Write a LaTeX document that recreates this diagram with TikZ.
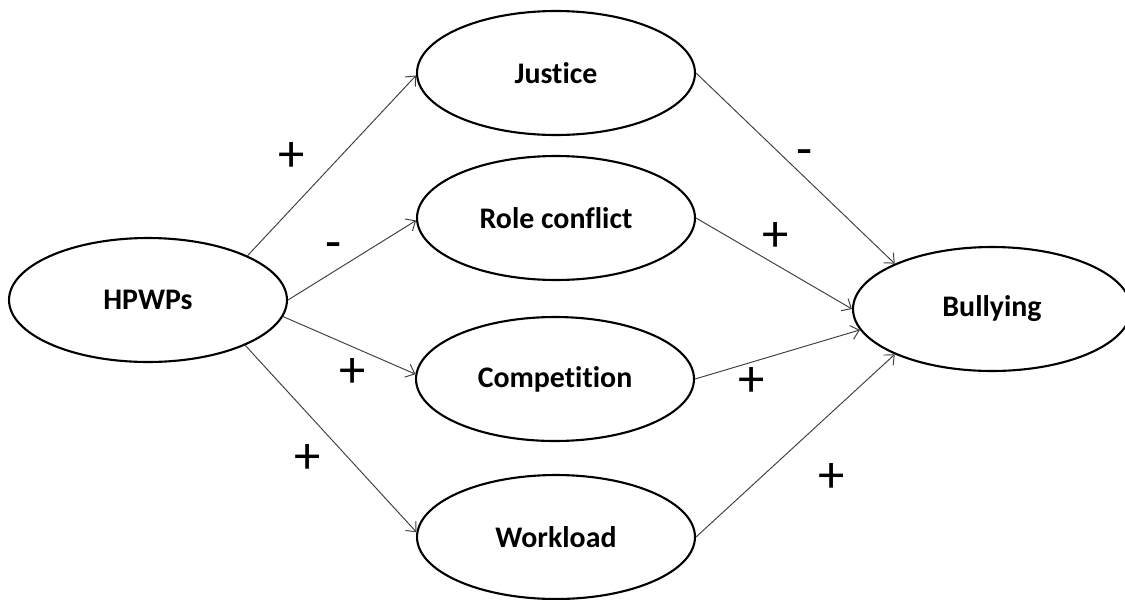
\documentclass[tikz,border=0pt]{standalone}
\usepackage{fontspec}
\setmainfont{Carlito}[Ligatures={NoCommon,NoContextual}]
\usetikzlibrary{shapes.geometric,arrows.meta}
\begin{document}
\begin{tikzpicture}[x=0.02cm,y=-0.02cm,
  construct/.style={ellipse,draw=black,line width=1.2pt,minimum width=5.56cm,
    minimum height=2.48cm,inner sep=0pt,font=\bfseries\fontsize{17}{19}\selectfont},
  path/.style={draw=black!75,line width=0.55pt,-{Straight Barb[length=4.5pt,width=8pt]}},
  sign/.style={inner sep=0pt,font=\fontsize{30}{32}\selectfont}]
\useasboundingbox (0,0) rectangle (1125,599);

% constructs
\node[construct] (hp) at (148,300) {HPWPs};
\node[construct] (ju) at (556,73)  {Justice};
\node[construct] (rc) at (556,218) {Role conflict};
\node[construct] (co) at (555,379) {Competition};
\node[construct] (wl) at (556,537) {Workload};
\node[construct] (bu) at (992,309) {Bullying};

% paths from HPWPs to the mediators
\draw[path] (hp.24)   -- (ju.181);
\draw[path] (hp.east) -- (rc.181);
\draw[path] (hp.-7.6) -- (co.178);
\draw[path] (hp.-25)  -- (wl.178);

% paths from the mediators to bullying
\draw[path] (ju.east) -- (bu.155);
\draw[path] (rc.east) -- (bu.180);
\draw[path] (co.east) -- (bu.189);
\draw[path] (wl.east) -- (bu.205);

% signs of the effects
\node[sign] (s1) at (292,157) {+};
\node[sign] (s2) at (334,251) {-};
\node[sign] (s3) at (353,373) {+};
\node[sign] (s4) at (308,459) {+};
\node[sign] (s5) at (805,158) {-};
\node[sign] (s6) at (776,237) {+};
\node[sign] (s7) at (752,382) {+};
\node[sign] (s8) at (832,478) {+};
\end{tikzpicture}
\end{document}
